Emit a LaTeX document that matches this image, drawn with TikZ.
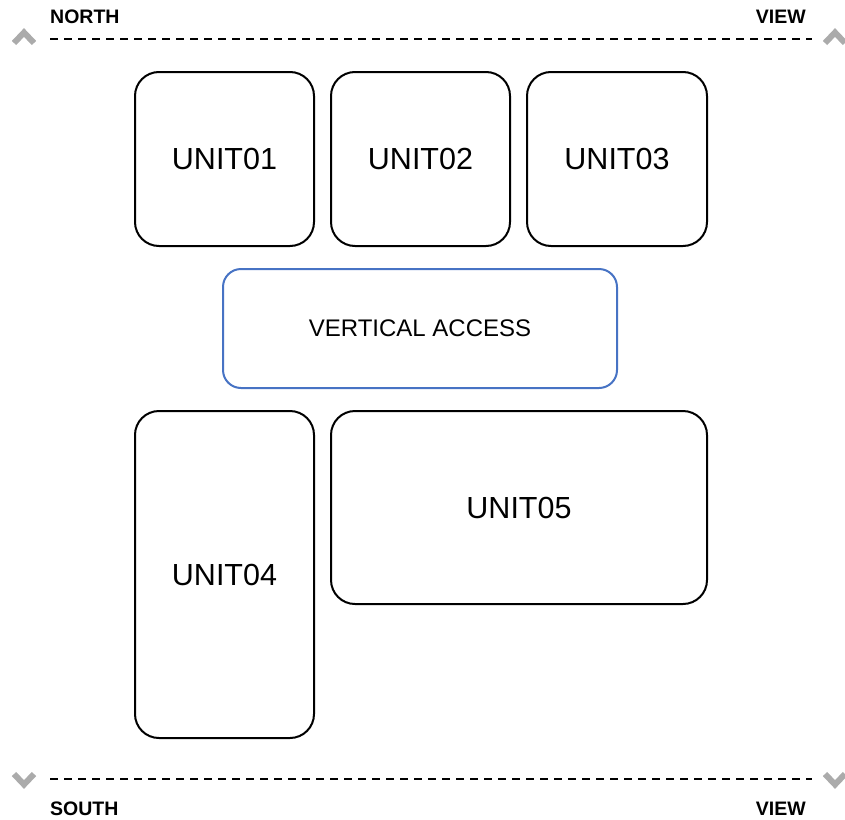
\documentclass[tikz,border=0pt]{standalone}
\usepackage{fontspec}
\setmainfont{Liberation Sans}
\usepackage{tikz}

\tikzset{
  unit/.style={draw, line width=2pt, rounded corners=24pt, font=\fontsize{30.5}{36}\selectfont},
  access/.style={draw=cBlue, line width=2pt, rounded corners=18pt, font=\fontsize{24}{29}\selectfont},
  viewlabel/.style={font=\fontsize{19.5}{23}\selectfont\bfseries, inner sep=0pt},
  chevron/.style={draw=cGrey, line width=6pt, line cap=butt, line join=miter},
  viewline/.style={line width=2pt, dash pattern=on 8pt off 6pt}
}

\begin{document}
\begin{tikzpicture}[x=1pt, y=-1pt]

\definecolor{cBlue}{rgb}{0.28, 0.45, 0.77}
\definecolor{cGrey}{rgb}{0.67, 0.67, 0.67}

\useasboundingbox (0,0) rectangle (845,819);

% north side
\node[viewlabel, anchor=base west] (north) at (50,23) {NORTH};
\node[viewlabel, anchor=base east] (northview) at (806,23) {VIEW};
\coordinate (nl) at (50,39);
\coordinate (nr) at (812,39);
\draw[viewline] (nl) -- (nr);
\draw[chevron] (14,43) -- (24,32.5) -- (34,43);
\draw[chevron] (825,43) -- (835,32.5) -- (845,43);

% units
\node[unit, minimum width=179pt, minimum height=174pt] (unit01) at (224.5,159) {UNIT01};
\node[unit, minimum width=179pt, minimum height=174pt] (unit02) at (420.5,159) {UNIT02};
\node[unit, minimum width=180pt, minimum height=174pt] (unit03) at (617,159) {UNIT03};
\node[access, minimum width=394pt, minimum height=119pt] (access) at (420,328.5) {VERTICAL ACCESS};
\node[unit, minimum width=179pt, minimum height=327pt] (unit04) at (224.5,574.5) {UNIT04};
\node[unit, minimum width=376pt, minimum height=193pt] (unit05) at (519,507.5) {UNIT05};

% south side
\coordinate (sl) at (50,779);
\coordinate (sr) at (812,779);
\draw[viewline] (sl) -- (sr);
\draw[chevron] (14,774) -- (24,784.5) -- (34,774);
\draw[chevron] (825,774) -- (835,784.5) -- (845,774);
\node[viewlabel, anchor=base west] (south) at (50,815) {SOUTH};
\node[viewlabel, anchor=base east] (southview) at (806,815) {VIEW};

\end{tikzpicture}
\end{document}
